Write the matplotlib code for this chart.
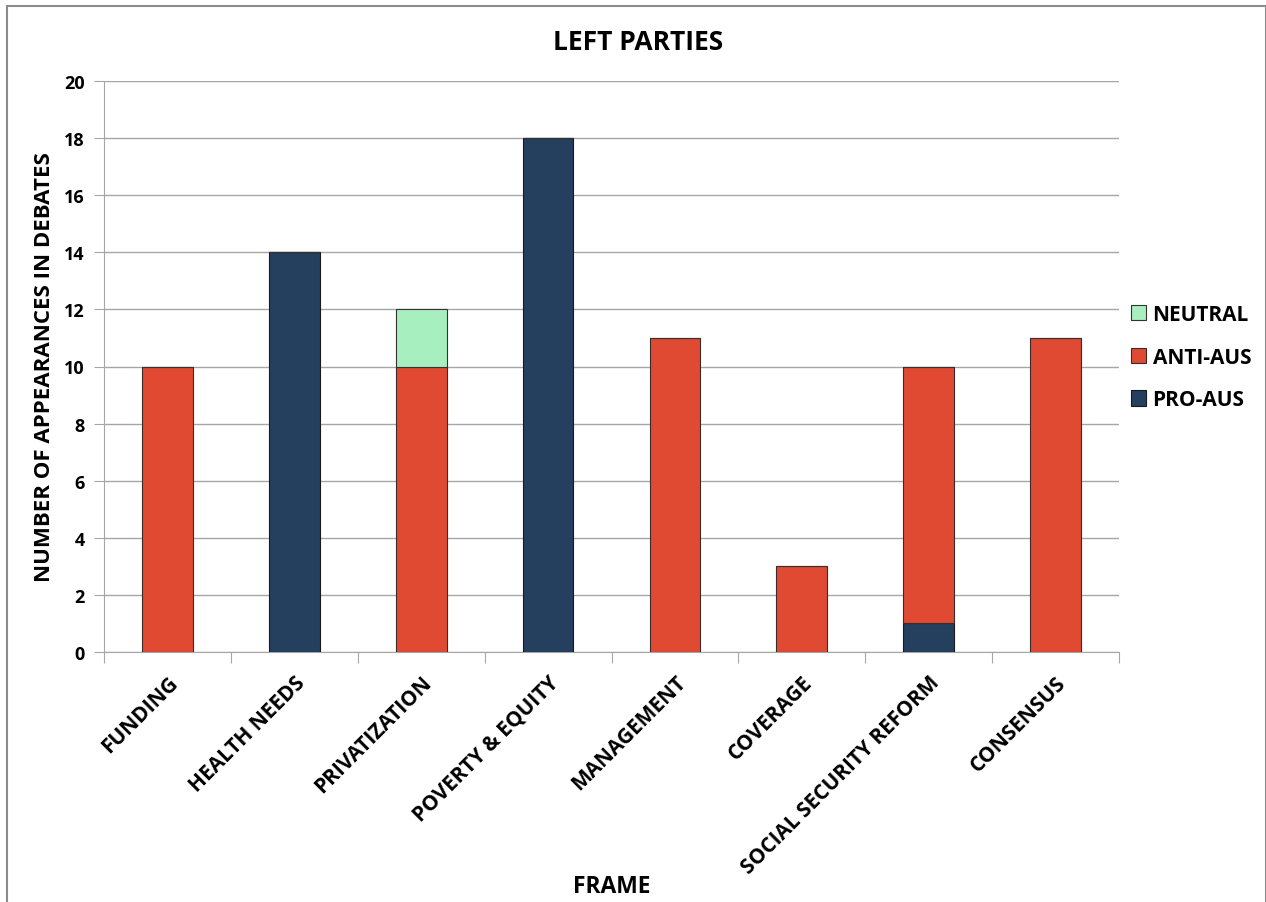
import matplotlib.pyplot as plt
from matplotlib.lines import Line2D
import numpy as np

plt.rcParams['font.family'] = ['Open Sans', 'DejaVu Sans']
plt.rcParams['font.weight'] = 'bold'

# frames discussed in the debates and counts per position
frames = ['FUNDING', 'HEALTH NEEDS', 'PRIVATIZATION', 'POVERTY & EQUITY',
          'MANAGEMENT', 'COVERAGE', 'SOCIAL SECURITY REFORM', 'CONSENSUS']
pro_aus = [0, 14, 0, 18, 0, 0, 1, 0]
anti_aus = [10, 0, 10, 0, 11, 3, 9, 11]
neutral = [0, 0, 2, 0, 0, 0, 0, 0]
y_ticks = [0, 2, 4, 6, 8, 10, 12, 14, 16, 18, 20]

col_pro = '#253F5E'
col_anti = '#E04A33'
col_neu = '#A8EFC0'
grid_col = '#A6A6A6'

fig = plt.figure(figsize=(12.66, 9.03), dpi=100)
ax = fig.add_axes([104 / 1266, 1 - 653 / 903, 1015 / 1266, 571 / 903])

x = np.arange(len(frames))
pro = np.array(pro_aus)
anti = np.array(anti_aus)
neu = np.array(neutral)
w = 0.4
ax.bar(x, pro, w, color=col_pro, edgecolor='#1a1a1a', linewidth=0.8, label='PRO-AUS', zorder=3)
ax.bar(x, anti, w, bottom=pro, color=col_anti, edgecolor='#3a2a2a', linewidth=0.8, label='ANTI-AUS', zorder=3)
ax.bar(x, neu, w, bottom=pro + anti, color=col_neu, edgecolor='#333333', linewidth=0.8, label='NEUTRAL', zorder=3)

ax.set_xlim(-0.5, len(frames) - 0.5)
ax.set_ylim(0, 20)
ax.set_yticks(y_ticks)
ax.yaxis.grid(True, color=grid_col, linewidth=1.0, zorder=0)
ax.set_axisbelow(True)

for side in ['top', 'right']:
    ax.spines[side].set_visible(False)
ax.spines['left'].set_color(grid_col)
ax.spines['bottom'].set_color(grid_col)

# category ticks sit on the boundaries between groups
ax.set_xticks(np.arange(len(frames) + 1) - 0.5)
ax.set_xticklabels([])
ax.set_xticks(x, minor=True)
ax.set_xticklabels(frames, minor=True, rotation=45, ha='right', rotation_mode='anchor',
                   fontsize=15, fontweight='bold')
ax.tick_params(axis='x', which='minor', length=0, pad=14)
ax.tick_params(axis='x', which='major', length=8, color=grid_col)
ax.tick_params(axis='y', length=7, color=grid_col, labelsize=13, pad=7)
for lbl in ax.get_yticklabels():
    lbl.set_fontweight('bold')

ax.set_ylabel('NUMBER OF APPEARANCES IN DEBATES', fontsize=16, fontweight='bold', labelpad=6)
fig.text(612 / 1266, 1 - 887 / 903, 'FRAME', ha='center', va='center', fontsize=16.5, fontweight='bold')
fig.text(638 / 1266, 1 - 42 / 903, 'LEFT PARTIES', ha='center', va='center', fontsize=19, fontweight='bold')

handles, labels = ax.get_legend_handles_labels()
leg = fig.legend(handles[::-1], labels[::-1], loc='center left',
                 bbox_to_anchor=(1112 / 1266, 1 - 358 / 903), frameon=False,
                 handlelength=0.75, handleheight=0.75, handletextpad=0.3,
                 labelspacing=1.05, prop={'weight': 'bold', 'size': 15})

# outer chart border (left, top, right)
fig.add_artist(Line2D([7.5 / 1266, 7.5 / 1266], [0, 1 - 6.5 / 903], color='#8c8c8c', linewidth=1.5, transform=fig.transFigure))
fig.add_artist(Line2D([7.5 / 1266, 1265.5 / 1266], [1 - 6.5 / 903, 1 - 6.5 / 903], color='#8c8c8c', linewidth=1.5, transform=fig.transFigure))
fig.add_artist(Line2D([1265.5 / 1266, 1265.5 / 1266], [0, 1 - 6.5 / 903], color='#8c8c8c', linewidth=1.5, transform=fig.transFigure))

fig.savefig('out.png', dpi=100)
